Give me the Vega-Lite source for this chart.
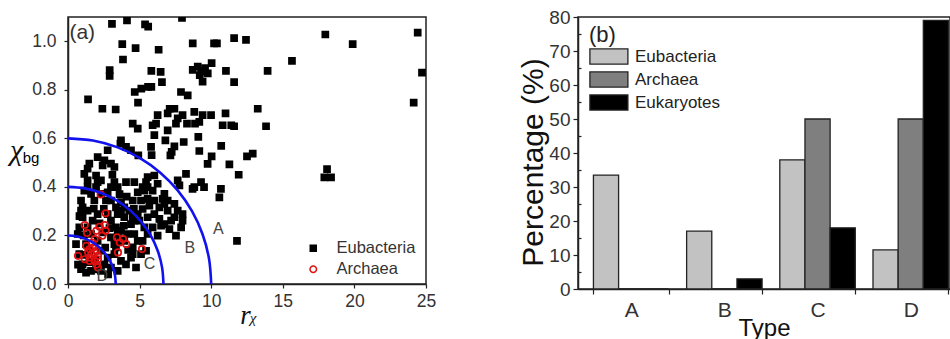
{
  "$schema": "https://vega.github.io/schema/vega-lite/v6.json",
  "background": "white",
  "padding": {"left": 8, "top": 7, "right": 1, "bottom": 0},
  "bounds": "flush",
  "spacing": 152,
  "resolve": {"scale": {"fill": "independent", "stroke": "independent", "shape": "independent", "size": "independent"}, "legend": {"fill": "independent", "stroke": "independent", "shape": "independent", "size": "independent"}},
  "config": {
    "font": "Liberation Sans",
    "view": {"stroke": "#222", "strokeWidth": 1.5},
    "axis": {"domainColor": "#222", "domainWidth": 1.5, "tickColor": "#222", "tickWidth": 1.2, "labelColor": "#333", "titleColor": "#111", "grid": false, "labelFont": "Liberation Sans", "titleFontWeight": "normal"}
  },
  "datasets": {
    "arcs": [
      {"arc":"A","i":0,"x":10,"y":0},{"arc":"A","i":1,"x":9.848,"y":0.1042},{"arc":"A","i":2,"x":9.397,"y":0.2052},{"arc":"A","i":3,"x":8.66,"y":0.3},{"arc":"A","i":4,"x":7.66,"y":0.3857},{"arc":"A","i":5,"x":6.428,"y":0.4596},{"arc":"A","i":6,"x":5,"y":0.5196},{"arc":"A","i":7,"x":3.42,"y":0.5638},{"arc":"A","i":8,"x":1.736,"y":0.5909},{"arc":"A","i":9,"x":0,"y":0.6},
      {"arc":"B","i":0,"x":6.667,"y":0},{"arc":"B","i":1,"x":6.565,"y":0.0695},{"arc":"B","i":2,"x":6.265,"y":0.1368},{"arc":"B","i":3,"x":5.774,"y":0.2},{"arc":"B","i":4,"x":5.107,"y":0.2571},{"arc":"B","i":5,"x":4.285,"y":0.3064},{"arc":"B","i":6,"x":3.333,"y":0.3464},{"arc":"B","i":7,"x":2.28,"y":0.3759},{"arc":"B","i":8,"x":1.157,"y":0.3939},{"arc":"B","i":9,"x":0,"y":0.4},
      {"arc":"C","i":0,"x":3.333,"y":0},{"arc":"C","i":1,"x":3.283,"y":0.0347},{"arc":"C","i":2,"x":3.132,"y":0.0684},{"arc":"C","i":3,"x":2.887,"y":0.1},{"arc":"C","i":4,"x":2.553,"y":0.1286},{"arc":"C","i":5,"x":2.143,"y":0.1532},{"arc":"C","i":6,"x":1.667,"y":0.1732},{"arc":"C","i":7,"x":1.14,"y":0.1879},{"arc":"C","i":8,"x":0.579,"y":0.197},{"arc":"C","i":9,"x":0,"y":0.2}
    ],
    "pts": [
      {"g":"Eubacteria","x":3.07,"y":1.072},{"g":"Eubacteria","x":4.12,"y":1.086},{"g":"Eubacteria","x":5.38,"y":1.07},{"g":"Eubacteria","x":5.6,"y":1.06},{"g":"Eubacteria","x":7.96,"y":1.096},{"g":"Eubacteria","x":11.6,"y":1.013},{"g":"Eubacteria","x":12.43,"y":1.006},{"g":"Eubacteria","x":17.97,"y":1.028},{"g":"Eubacteria","x":24.42,"y":1.036},{"g":"Eubacteria","x":19.88,"y":0.988},
      {"g":"Eubacteria","x":3.79,"y":0.988},{"g":"Eubacteria","x":4.72,"y":0.972},{"g":"Eubacteria","x":6.33,"y":0.965},{"g":"Eubacteria","x":8.71,"y":0.991},{"g":"Eubacteria","x":10.2,"y":0.991},{"g":"Eubacteria","x":10.4,"y":0.991},{"g":"Eubacteria","x":3.84,"y":0.925},{"g":"Eubacteria","x":15.64,"y":0.919},{"g":"Eubacteria","x":24.72,"y":0.871},{"g":"Eubacteria","x":13.94,"y":0.878},
      {"g":"Eubacteria","x":11.03,"y":0.878},{"g":"Eubacteria","x":11.6,"y":0.832},{"g":"Eubacteria","x":2.91,"y":0.881},{"g":"Eubacteria","x":2.91,"y":0.857},{"g":"Eubacteria","x":5.82,"y":0.878},{"g":"Eubacteria","x":6.47,"y":0.874},{"g":"Eubacteria","x":6.56,"y":0.832},{"g":"Eubacteria","x":8.71,"y":0.882},{"g":"Eubacteria","x":9.06,"y":0.896},{"g":"Eubacteria","x":9.29,"y":0.875},
      {"g":"Eubacteria","x":9.57,"y":0.889},{"g":"Eubacteria","x":9.76,"y":0.868},{"g":"Eubacteria","x":10.03,"y":0.91},{"g":"Eubacteria","x":9.4,"y":0.834},{"g":"Eubacteria","x":9.2,"y":0.86},{"g":"Eubacteria","x":4.66,"y":0.791},{"g":"Eubacteria","x":5.12,"y":0.805},{"g":"Eubacteria","x":5.59,"y":0.812},{"g":"Eubacteria","x":5.82,"y":0.812},{"g":"Eubacteria","x":7.89,"y":0.791},
      {"g":"Eubacteria","x":8.36,"y":0.777},{"g":"Eubacteria","x":1.4,"y":0.761},{"g":"Eubacteria","x":2.4,"y":0.722},{"g":"Eubacteria","x":3.33,"y":0.719},{"g":"Eubacteria","x":4.89,"y":0.747},{"g":"Eubacteria","x":7.1,"y":0.722},{"g":"Eubacteria","x":7.43,"y":0.722},{"g":"Eubacteria","x":6.96,"y":0.703},{"g":"Eubacteria","x":8.82,"y":0.709},{"g":"Eubacteria","x":9.4,"y":0.696},
      {"g":"Eubacteria","x":9.99,"y":0.696},{"g":"Eubacteria","x":11.0,"y":0.703},{"g":"Eubacteria","x":13.25,"y":0.722},{"g":"Eubacteria","x":13.83,"y":0.65},{"g":"Eubacteria","x":24.14,"y":0.747},{"g":"Eubacteria","x":6.26,"y":0.696},{"g":"Eubacteria","x":6.15,"y":0.661},{"g":"Eubacteria","x":4.52,"y":0.661},{"g":"Eubacteria","x":4.87,"y":0.64},{"g":"Eubacteria","x":5.91,"y":0.654},
      {"g":"Eubacteria","x":6.03,"y":0.613},{"g":"Eubacteria","x":7.54,"y":0.661},{"g":"Eubacteria","x":7.66,"y":0.682},{"g":"Eubacteria","x":6.96,"y":0.633},{"g":"Eubacteria","x":8.31,"y":0.661},{"g":"Eubacteria","x":8.87,"y":0.661},{"g":"Eubacteria","x":9.17,"y":0.668},{"g":"Eubacteria","x":8.0,"y":0.696},{"g":"Eubacteria","x":10.8,"y":0.654},{"g":"Eubacteria","x":11.4,"y":0.654},
      {"g":"Eubacteria","x":11.6,"y":0.65},{"g":"Eubacteria","x":9.1,"y":0.606},{"g":"Eubacteria","x":6.8,"y":0.592},{"g":"Eubacteria","x":5.8,"y":0.565},{"g":"Eubacteria","x":3.7,"y":0.592},{"g":"Eubacteria","x":4.05,"y":0.565},{"g":"Eubacteria","x":3.66,"y":0.578},{"g":"Eubacteria","x":4.4,"y":0.551},{"g":"Eubacteria","x":10.7,"y":0.569},{"g":"Eubacteria","x":8.08,"y":0.585},
      {"g":"Eubacteria","x":7.43,"y":0.567},{"g":"Eubacteria","x":5.84,"y":0.531},{"g":"Eubacteria","x":4.91,"y":0.53},{"g":"Eubacteria","x":7.15,"y":0.53},{"g":"Eubacteria","x":7.24,"y":0.544},{"g":"Eubacteria","x":9.17,"y":0.548},{"g":"Eubacteria","x":10.03,"y":0.526},{"g":"Eubacteria","x":9.75,"y":0.495},{"g":"Eubacteria","x":11.27,"y":0.493},{"g":"Eubacteria","x":11.92,"y":0.45},
      {"g":"Eubacteria","x":12.5,"y":0.526},{"g":"Eubacteria","x":12.9,"y":0.537},{"g":"Eubacteria","x":18.09,"y":0.473},{"g":"Eubacteria","x":17.9,"y":0.439},{"g":"Eubacteria","x":18.37,"y":0.439},{"g":"Eubacteria","x":11.8,"y":0.178},
      {"g":"Eubacteria","x":1.49,"y":0.496},{"g":"Eubacteria","x":1.37,"y":0.475},{"g":"Eubacteria","x":2.07,"y":0.523},{"g":"Eubacteria","x":2.54,"y":0.509},{"g":"Eubacteria","x":2.42,"y":0.489},{"g":"Eubacteria","x":3.0,"y":0.496},{"g":"Eubacteria","x":3.24,"y":0.482},{"g":"Eubacteria","x":2.77,"y":0.551},{"g":"Eubacteria","x":1.14,"y":0.454},{"g":"Eubacteria","x":1.96,"y":0.447},
      {"g":"Eubacteria","x":2.3,"y":0.427},{"g":"Eubacteria","x":3.24,"y":0.42},{"g":"Eubacteria","x":3.47,"y":0.399},{"g":"Eubacteria","x":4.05,"y":0.42},{"g":"Eubacteria","x":5.56,"y":0.44},{"g":"Eubacteria","x":5.45,"y":0.42},{"g":"Eubacteria","x":5.21,"y":0.399},{"g":"Eubacteria","x":4.87,"y":0.378},{"g":"Eubacteria","x":6.03,"y":0.447},{"g":"Eubacteria","x":6.26,"y":0.413},
      {"g":"Eubacteria","x":6.73,"y":0.371},{"g":"Eubacteria","x":7.66,"y":0.427},{"g":"Eubacteria","x":7.78,"y":0.406},{"g":"Eubacteria","x":8.24,"y":0.454},{"g":"Eubacteria","x":8.7,"y":0.392},{"g":"Eubacteria","x":8.82,"y":0.399},{"g":"Eubacteria","x":9.29,"y":0.42},{"g":"Eubacteria","x":9.5,"y":0.399},{"g":"Eubacteria","x":10.68,"y":0.392},{"g":"Eubacteria","x":10.57,"y":0.357},
      {"g":"Eubacteria","x":4.63,"y":0.42},{"g":"Eubacteria","x":4.52,"y":0.344},{"g":"Eubacteria","x":5.33,"y":0.385},{"g":"Eubacteria","x":5.1,"y":0.344},{"g":"Eubacteria","x":5.56,"y":0.351},{"g":"Eubacteria","x":5.68,"y":0.323},{"g":"Eubacteria","x":6.03,"y":0.344},{"g":"Eubacteria","x":6.38,"y":0.316},{"g":"Eubacteria","x":6.73,"y":0.33},{"g":"Eubacteria","x":6.96,"y":0.302},
      {"g":"Eubacteria","x":7.43,"y":0.33},{"g":"Eubacteria","x":7.66,"y":0.302},{"g":"Eubacteria","x":8.0,"y":0.288},{"g":"Eubacteria","x":8.0,"y":0.261},{"g":"Eubacteria","x":7.54,"y":0.199},{"g":"Eubacteria","x":7.9,"y":0.233},{"g":"Eubacteria","x":6.03,"y":0.288},{"g":"Eubacteria","x":6.38,"y":0.268},{"g":"Eubacteria","x":6.73,"y":0.247},{"g":"Eubacteria","x":7.08,"y":0.226},
      {"g":"Eubacteria","x":5.91,"y":0.233},{"g":"Eubacteria","x":6.5,"y":0.24},{"g":"Eubacteria","x":6.26,"y":0.199},
      {"g":"Eubacteria","x":3.7,"y":0.337},{"g":"Eubacteria","x":3.93,"y":0.316},{"g":"Eubacteria","x":4.28,"y":0.302},{"g":"Eubacteria","x":4.52,"y":0.275},{"g":"Eubacteria","x":4.87,"y":0.288},{"g":"Eubacteria","x":4.98,"y":0.261},{"g":"Eubacteria","x":5.33,"y":0.233},{"g":"Eubacteria","x":5.56,"y":0.206},{"g":"Eubacteria","x":5.21,"y":0.178},{"g":"Eubacteria","x":4.63,"y":0.206},
      {"g":"Eubacteria","x":4.87,"y":0.178},{"g":"Eubacteria","x":4.52,"y":0.151},{"g":"Eubacteria","x":4.17,"y":0.206},{"g":"Eubacteria","x":3.93,"y":0.178},{"g":"Eubacteria","x":3.35,"y":0.233},{"g":"Eubacteria","x":3.0,"y":0.261},{"g":"Eubacteria","x":2.77,"y":0.288},{"g":"Eubacteria","x":1.84,"y":0.344},{"g":"Eubacteria","x":1.61,"y":0.371},{"g":"Eubacteria","x":1.37,"y":0.399},
      {"g":"Eubacteria","x":1.14,"y":0.385},{"g":"Eubacteria","x":0.91,"y":0.344},{"g":"Eubacteria","x":1.02,"y":0.316},{"g":"Eubacteria","x":1.37,"y":0.302},{"g":"Eubacteria","x":2.3,"y":0.371},{"g":"Eubacteria","x":2.65,"y":0.344},{"g":"Eubacteria","x":3.0,"y":0.344},{"g":"Eubacteria","x":3.35,"y":0.316},{"g":"Eubacteria","x":2.07,"y":0.288},{"g":"Eubacteria","x":1.72,"y":0.261},
      {"g":"Eubacteria","x":1.37,"y":0.233},{"g":"Eubacteria","x":1.02,"y":0.275},{"g":"Eubacteria","x":0.79,"y":0.233},{"g":"Eubacteria","x":0.68,"y":0.206},{"g":"Eubacteria","x":0.56,"y":0.164},{"g":"Eubacteria","x":0.79,"y":0.123},{"g":"Eubacteria","x":1.02,"y":0.081},{"g":"Eubacteria","x":0.91,"y":0.061},{"g":"Eubacteria","x":1.26,"y":0.047},{"g":"Eubacteria","x":1.61,"y":0.054},
      {"g":"Eubacteria","x":1.96,"y":0.068},{"g":"Eubacteria","x":2.3,"y":0.054},{"g":"Eubacteria","x":2.54,"y":0.081},{"g":"Eubacteria","x":2.77,"y":0.109},{"g":"Eubacteria","x":3.24,"y":0.123},{"g":"Eubacteria","x":3.35,"y":0.151},{"g":"Eubacteria","x":3.58,"y":0.178},{"g":"Eubacteria","x":3.7,"y":0.095},{"g":"Eubacteria","x":4.05,"y":0.081},{"g":"Eubacteria","x":4.4,"y":0.109},
      {"g":"Eubacteria","x":4.75,"y":0.068},{"g":"Eubacteria","x":4.52,"y":0.123},{"g":"Eubacteria","x":5.1,"y":0.123},{"g":"Eubacteria","x":5.45,"y":0.137},{"g":"Eubacteria","x":2.3,"y":0.137},{"g":"Eubacteria","x":1.26,"y":0.164},{"g":"Eubacteria","x":1.49,"y":0.137},{"g":"Eubacteria","x":1.61,"y":0.206},{"g":"Eubacteria","x":2.07,"y":0.178},{"g":"Eubacteria","x":2.42,"y":0.213},
      {"g":"Eubacteria","x":3.0,"y":0.192},{"g":"Eubacteria","x":3.24,"y":0.164},{"g":"Eubacteria","x":3.47,"y":0.206},{"g":"Eubacteria","x":3.7,"y":0.219},{"g":"Eubacteria","x":4.4,"y":0.247},{"g":"Eubacteria","x":4.63,"y":0.261},{"g":"Eubacteria","x":3.93,"y":0.275},{"g":"Eubacteria","x":3.47,"y":0.288},{"g":"Eubacteria","x":3.7,"y":0.302},{"g":"Eubacteria","x":5.56,"y":0.275},
      {"g":"Eubacteria","x":5.21,"y":0.309},{"g":"Eubacteria","x":5.56,"y":0.399},{"g":"Eubacteria","x":5.91,"y":0.385},{"g":"Eubacteria","x":6.61,"y":0.351},{"g":"Eubacteria","x":6.96,"y":0.344},{"g":"Eubacteria","x":7.43,"y":0.275},{"g":"Eubacteria","x":7.2,"y":0.261},{"g":"Eubacteria","x":1.96,"y":0.399},{"g":"Eubacteria","x":2.07,"y":0.42},{"g":"Eubacteria","x":2.77,"y":0.378},
      {"g":"Eubacteria","x":3.0,"y":0.399},{"g":"Eubacteria","x":1.37,"y":0.427},{"g":"Eubacteria","x":0.91,"y":0.302},{"g":"Eubacteria","x":3.0,"y":0.068},{"g":"Eubacteria","x":3.47,"y":0.054},
      {"g":"Eubacteria","x":1.9,"y":0.1},{"g":"Eubacteria","x":2.6,"y":0.15},{"g":"Eubacteria","x":1.1,"y":0.12},{"g":"Eubacteria","x":0.7,"y":0.08},{"g":"Eubacteria","x":1.5,"y":0.09},{"g":"Eubacteria","x":2.9,"y":0.23},{"g":"Eubacteria","x":4.2,"y":0.14},{"g":"Eubacteria","x":3.9,"y":0.24},{"g":"Eubacteria","x":2.2,"y":0.25},{"g":"Eubacteria","x":2.5,"y":0.31},
      {"g":"Eubacteria","x":1.8,"y":0.31},{"g":"Eubacteria","x":4.1,"y":0.36},{"g":"Eubacteria","x":4.6,"y":0.31},{"g":"Eubacteria","x":3.1,"y":0.45},{"g":"Eubacteria","x":3.6,"y":0.37},{"g":"Eubacteria","x":2.1,"y":0.06},{"g":"Eubacteria","x":2.8,"y":0.04},{"g":"Eubacteria","x":1.1,"y":0.2},{"g":"Eubacteria","x":0.8,"y":0.28},
      {"g":"Archaea","x":2.28,"y":0.369},{"g":"Archaea","x":2.63,"y":0.291},{"g":"Archaea","x":1.17,"y":0.243},{"g":"Archaea","x":1.33,"y":0.21},{"g":"Archaea","x":1.98,"y":0.219},{"g":"Archaea","x":2.21,"y":0.236},{"g":"Archaea","x":2.56,"y":0.243},{"g":"Archaea","x":2.63,"y":0.219},{"g":"Archaea","x":2.4,"y":0.199},{"g":"Archaea","x":1.86,"y":0.185},
      {"g":"Archaea","x":3.42,"y":0.192},{"g":"Archaea","x":3.61,"y":0.171},{"g":"Archaea","x":3.84,"y":0.185},{"g":"Archaea","x":4.07,"y":0.164},{"g":"Archaea","x":3.49,"y":0.13},{"g":"Archaea","x":5.17,"y":0.144},{"g":"Archaea","x":0.7,"y":0.116},{"g":"Archaea","x":1.28,"y":0.157},{"g":"Archaea","x":1.51,"y":0.144},{"g":"Archaea","x":1.75,"y":0.15},
      {"g":"Archaea","x":1.98,"y":0.137},{"g":"Archaea","x":1.4,"y":0.13},{"g":"Archaea","x":1.63,"y":0.123},{"g":"Archaea","x":1.86,"y":0.13},{"g":"Archaea","x":2.09,"y":0.116},{"g":"Archaea","x":1.17,"y":0.102},{"g":"Archaea","x":1.51,"y":0.095},{"g":"Archaea","x":1.86,"y":0.095},{"g":"Archaea","x":2.09,"y":0.102},{"g":"Archaea","x":2.09,"y":0.068},
      {"g":"Archaea","x":1.51,"y":0.109},{"g":"Archaea","x":1.7,"y":0.17},{"g":"Archaea","x":2.0,"y":0.08}
    ],
    "bars": [
      {"type":"A","g":"Eubacteria","pct":33.5},{"type":"A","g":"Archaea","pct":0},{"type":"A","g":"Eukaryotes","pct":0},
      {"type":"B","g":"Eubacteria","pct":17},{"type":"B","g":"Archaea","pct":0},{"type":"B","g":"Eukaryotes","pct":3},
      {"type":"C","g":"Eubacteria","pct":38},{"type":"C","g":"Archaea","pct":50},{"type":"C","g":"Eukaryotes","pct":18},
      {"type":"D","g":"Eubacteria","pct":11.5},{"type":"D","g":"Archaea","pct":50},{"type":"D","g":"Eukaryotes","pct":79}
    ]
  },
  "hconcat": [
    {
      "width": 358,
      "height": 267,
      "layer": [
        {
          "data": {"name": "pts"},
          "mark": {"type": "point", "opacity": 1, "strokeWidth": 1.7, "clip": true},
          "encoding": {
            "x": {"field": "x", "type": "quantitative", "scale": {"domain": [0, 25], "nice": false, "zero": false},
              "axis": {"values": [0, 2.5, 5, 7.5, 10, 12.5, 15, 17.5, 20, 22.5, 25], "labelExpr": "datum.value % 5 === 0 ? format(datum.value, 'd') : ''",
                "tickSize": {"condition": {"test": "datum.value % 5 === 0", "value": 4}, "value": 3},
                "labelFontSize": 17.5, "labelPadding": 4, "labelFlush": false,
                "title": "r", "titleFont": "Liberation Serif", "titleFontStyle": "italic", "titleFontSize": 27, "titleX": 177, "titleY": 31, "titleBaseline": "middle", "titleAlign": "center"}},
            "y": {"field": "y", "type": "quantitative", "scale": {"domain": [0, 1.1], "nice": false},
              "axis": {"values": [0, 0.1, 0.2, 0.3, 0.4, 0.5, 0.6, 0.7, 0.8, 0.9, 1.0], "labelExpr": "round(datum.value*10) % 2 === 0 ? format(datum.value, '.1f') : ''",
                "tickSize": {"condition": {"test": "round(datum.value*10) % 2 === 0", "value": 4}, "value": 3},
                "labelFontSize": 17.5, "labelPadding": 8, "labelFlush": false,
                "title": "χ", "titleFont": "Liberation Serif", "titleFontStyle": "italic", "titleFontSize": 30, "titleAngle": 0, "titleX": -52, "titleY": 133, "titleBaseline": "middle", "titleAlign": "center"}},
            "shape": {"field": "g", "type": "nominal", "scale": {"domain": ["Eubacteria", "Archaea"], "range": ["square", "circle"]},
              "legend": {"title": null, "orient": "none", "legendX": 237, "legendY": 223, "labelFontSize": 16.5, "labelColor": "#333", "labelOffset": 15, "rowPadding": 4, "padding": 0}},
            "fill": {"field": "g", "type": "nominal", "scale": {"domain": ["Eubacteria", "Archaea"], "range": ["#000000", "transparent"]}},
            "stroke": {"field": "g", "type": "nominal", "scale": {"domain": ["Eubacteria", "Archaea"], "range": ["#000000", "#e01010"]}},
            "size": {"field": "g", "type": "nominal", "scale": {"domain": ["Eubacteria", "Archaea"], "range": [36, 42]}},
            "order": {"field": "g", "sort": "descending"}
          }
        },
        {
          "data": {"name": "arcs"},
          "mark": {"type": "line", "color": "#1212ee", "strokeWidth": 2.6, "interpolate": "cardinal"},
          "encoding": {
            "x": {"field": "x", "type": "quantitative"},
            "y": {"field": "y", "type": "quantitative"},
            "detail": {"field": "arc"},
            "order": {"field": "i", "type": "quantitative"}
          }
        },
        {
          "data": {"values": [{"x": 10.5, "y": 0.228, "t": "A"}, {"x": 8.5, "y": 0.15, "t": "B"}, {"x": 5.7, "y": 0.083, "t": "C"}, {"x": 2.4, "y": 0.033, "t": "D"}]},
          "mark": {"type": "text", "fontSize": 16, "color": "#444", "font": "Liberation Sans"},
          "encoding": {"x": {"field": "x", "type": "quantitative"}, "y": {"field": "y", "type": "quantitative"}, "text": {"field": "t"}}
        },
        {
          "data": {"values": [{"x": 0.1, "y": 1.035, "t": "(a)"}]},
          "mark": {"type": "text", "fontSize": 21, "color": "#333", "align": "left", "baseline": "middle"},
          "encoding": {"x": {"field": "x", "type": "quantitative"}, "y": {"field": "y", "type": "quantitative"}, "text": {"field": "t"}}
        },
        {
          "data": {"values": [{"x": -2.58, "y": 0.52, "t": "bg"}]},
          "mark": {"type": "text", "fontSize": 15, "color": "#000", "baseline": "middle"},
          "encoding": {"x": {"field": "x", "type": "quantitative"}, "y": {"field": "y", "type": "quantitative"}, "text": {"field": "t"}}
        },
        {
          "data": {"values": [{"x": 12.92, "y": -0.141, "t": "χ"}]},
          "mark": {"type": "text", "fontSize": 15, "color": "#111", "font": "Liberation Serif", "fontStyle": "italic", "baseline": "middle"},
          "encoding": {"x": {"field": "x", "type": "quantitative"}, "y": {"field": "y", "type": "quantitative"}, "text": {"field": "t"}}
        }
      ]
    },
    {
      "width": 372,
      "height": 272,
      "data": {"name": "bars"},
      "mark": {"type": "bar", "stroke": "#222", "strokeWidth": 1.3},
      "encoding": {
        "x": {"field": "type", "type": "nominal", "scale": {"paddingInner": 0.19, "paddingOuter": 0.091, "align": 0.91},
          "axis": {"labelAngle": 0, "labelFontSize": 21, "labelPadding": 5, "tickSize": 5, "tickBand": "extent",
            "title": "Type", "titleFontSize": 24, "titleY": 27, "titleBaseline": "top"}},
        "xOffset": {"field": "g", "type": "nominal", "sort": ["Eubacteria", "Archaea", "Eukaryotes"]},
        "y": {"field": "pct", "type": "quantitative", "scale": {"domain": [0, 80], "nice": false},
          "axis": {"values": [0, 5, 10, 15, 20, 25, 30, 35, 40, 45, 50, 55, 60, 65, 70, 75, 80], "labelExpr": "datum.value % 10 === 0 ? datum.label : ''",
            "tickSize": {"condition": {"test": "datum.value % 10 === 0", "value": 5}, "value": -3},
            "labelFontSize": 19, "labelPadding": 3, "labelFlush": false,
            "title": "Percentage (%)", "titleFontSize": 30, "titleAngle": -90, "titleX": -45, "titleY": 145, "titleBaseline": "middle", "titleAlign": "center"}},
        "fill": {"field": "g", "type": "nominal", "sort": ["Eubacteria", "Archaea", "Eukaryotes"],
          "scale": {"domain": ["Eubacteria", "Archaea", "Eukaryotes"], "range": ["#c2c2c2", "#7f7f7f", "#000000"]},
          "legend": {"title": "(b)", "titleFontSize": 22, "titleFontWeight": "normal", "titleColor": "#222", "titlePadding": 1, "orient": "none", "legendX": 11, "legendY": 8,
            "symbolType": "M-1,-1L4,-1L4,1L-1,1Z", "symbolSize": 231, "symbolStrokeColor": "#222", "symbolStrokeWidth": 1.3,
            "labelFontSize": 17, "labelColor": "#222", "labelOffset": 29, "rowPadding": 2, "padding": 0}}
      }
    }
  ]
}
